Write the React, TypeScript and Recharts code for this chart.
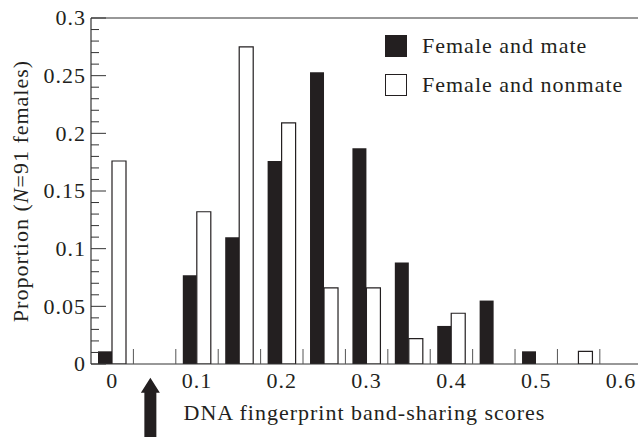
import React from 'react';
import { BarChart, Bar, XAxis, YAxis, ReferenceLine, Legend, Label } from 'recharts';

const bins = [0, 0.05, 0.1, 0.15, 0.2, 0.25, 0.3, 0.35, 0.4, 0.45, 0.5, 0.55];
const mateValues = [0.011, 0, 0.077, 0.11, 0.176, 0.253, 0.187, 0.088, 0.033, 0.055, 0.011, 0];
const nonmateValues = [0.176, 0, 0.132, 0.275, 0.209, 0.066, 0.066, 0.022, 0.044, 0, 0, 0.011];
const seriesNames = ['Female and mate', 'Female and nonmate'];

const xLabelTicks = [0, 0.1, 0.2, 0.3, 0.4, 0.5, 0.6];
const xBinEdgeTicks = [0.025, 0.075, 0.125, 0.175, 0.225, 0.275, 0.325, 0.375, 0.425, 0.475, 0.525, 0.575];
const yMajorTicks = [0, 0.05, 0.1, 0.15, 0.2, 0.25, 0.3];
const yMinorTicks = [
  0.01, 0.02, 0.03, 0.04, 0.06, 0.07, 0.08, 0.09, 0.11, 0.12, 0.13, 0.14,
  0.16, 0.17, 0.18, 0.19, 0.21, 0.22, 0.23, 0.24, 0.26, 0.27, 0.28, 0.29,
];
const xTitle = 'DNA fingerprint band-sharing scores';
const arrowScore = 0.045;
const arrowTip = -0.012;
const arrowTail = -0.066;

const data = bins.map((b, i) => ({ score: b, mate: mateValues[i], nonmate: nonmateValues[i] }));
const xTicks = [...xLabelTicks, ...xBinEdgeTicks].sort((a, b) => a - b);
const yTicks = [...yMajorTicks, ...yMinorTicks].sort((a, b) => a - b);

const FONT = '"Liberation Serif", "Times New Roman", serif';
const INK = '#231f20';
const AXIS = '#333';

const near = (arr: number[], v: number) => arr.some((a) => Math.abs(a - v) < 1e-6);

function XTick(props: any) {
  const { x, y, payload } = props;
  const v = payload.value;
  if (near(xBinEdgeTicks, v)) {
    return <line x1={x} x2={x} y1={y} y2={y - 15} stroke="#555" strokeWidth={1} />;
  }
  return (
    <text x={x} y={y + 24} textAnchor="middle" fill={INK} fontSize={22} letterSpacing={1} fontFamily={FONT}>
      {String(v)}
    </text>
  );
}

function YTick(props: any) {
  const { x, y, payload } = props;
  const v = payload.value;
  const major = near(yMajorTicks, v);
  return (
    <g>
      <line x1={x} x2={x + (major ? 15 : 8)} y1={y} y2={y} stroke={AXIS} strokeWidth={1} />
      {major && (
        <text x={x - 5} y={y} dy="0.34em" textAnchor="end" fill={INK} fontSize={22} letterSpacing={1} fontFamily={FONT}>
          {String(v)}
        </text>
      )}
    </g>
  );
}

function YTitle(props: any) {
  const vb = props.viewBox || { x: 0, y: 18, width: 91, height: 346 };
  const cx = vb.x + 28;
  const cy = vb.y + vb.height / 2;
  return (
    <text x={cx} y={cy} transform={`rotate(-90 ${cx} ${cy})`} textAnchor="middle" fill={INK} fontSize={22} letterSpacing={1} fontFamily={FONT}>
      Proportion (<tspan fontStyle="italic">N</tspan>=91 females)
    </text>
  );
}

function XTitle(props: any) {
  const vb = props.viewBox || { x: 91, y: 364, width: 547, height: 73 };
  const cx = vb.x + vb.width / 2;
  return (
    <text x={cx} y={vb.y + 56} textAnchor="middle" fill={INK} fontSize={22} letterSpacing={1} fontFamily={FONT}>
      {xTitle}
    </text>
  );
}

function ArrowShape(props: any) {
  const { x1, y1, y2 } = props;
  if (x1 == null) return null;
  const top = Math.min(y1, y2);
  const bottom = Math.max(y1, y2);
  const head = 15;
  const hw = 9.5;
  const sw = 6;
  const d = `M${x1},${top} L${x1 + hw},${top + head} L${x1 + sw},${top + head} L${x1 + sw},${bottom} L${x1 - sw},${bottom} L${x1 - sw},${top + head} L${x1 - hw},${top + head} Z`;
  return <path d={d} fill={INK} />;
}

function LegendContent() {
  const colors = [INK, '#fff'];
  return (
    <div style={{ fontFamily: FONT, fontSize: 22, letterSpacing: 1, color: INK }}>
      {seriesNames.map((n, i) => (
        <div key={n} style={{ display: 'flex', alignItems: 'center', height: 22, marginBottom: i === 0 ? 17 : 0, whiteSpace: 'nowrap' }}>
          <div
            style={{
              width: 22,
              height: 22,
              boxSizing: 'border-box',
              background: colors[i],
              border: `1.5px solid ${INK}`,
              marginRight: 15,
            }}
          />
          <span style={{ lineHeight: '22px' }}>{n}</span>
        </div>
      ))}
    </div>
  );
}

export default function App() {
  return (
    <div style={{ position: 'absolute', left: 0, top: 0, width: 639, height: 437, background: '#fff' }}>
      <BarChart
        width={639}
        height={437}
        data={data}
        margin={{ top: 18, right: 1, bottom: 0, left: 0 }}
        barGap={0}
        barCategoryGap={0}
      >
        <XAxis
          dataKey="score"
          type="number"
          domain={[-0.025, 0.62]}
          allowDataOverflow
          ticks={xTicks}
          interval={0}
          tickLine={false}
          tickSize={0}
          tickMargin={0}
          tick={<XTick />}
          axisLine={{ stroke: AXIS, strokeWidth: 1.2 }}
          height={73}
        >
          <Label content={<XTitle />} />
        </XAxis>
        <YAxis
          type="number"
          domain={[0, 0.3]}
          allowDataOverflow
          ticks={yTicks}
          interval={0}
          tickLine={false}
          tickSize={0}
          tickMargin={0}
          tick={<YTick />}
          axisLine={{ stroke: AXIS, strokeWidth: 1.2 }}
          width={91}
        >
          <Label content={<YTitle />} />
        </YAxis>
        <ReferenceLine y={0.3} stroke={AXIS} strokeWidth={1.2} />
        <Legend
          layout="vertical"
          align="center"
          verticalAlign="middle"
          wrapperStyle={{ top: 35, left: 385 }}
          content={<LegendContent />}
        />
        <Bar dataKey="mate" name={seriesNames[0]} fill={INK} barSize={14} isAnimationActive={false} />
        <Bar dataKey="nonmate" name={seriesNames[1]} fill="#fff" stroke={INK} strokeWidth={1.2} barSize={14} isAnimationActive={false} />
        <ReferenceLine
          segment={[
            { x: arrowScore, y: arrowTip },
            { x: arrowScore, y: arrowTail },
          ]}
          ifOverflow="visible"
          shape={<ArrowShape />}
        />
      </BarChart>
    </div>
  );
}
